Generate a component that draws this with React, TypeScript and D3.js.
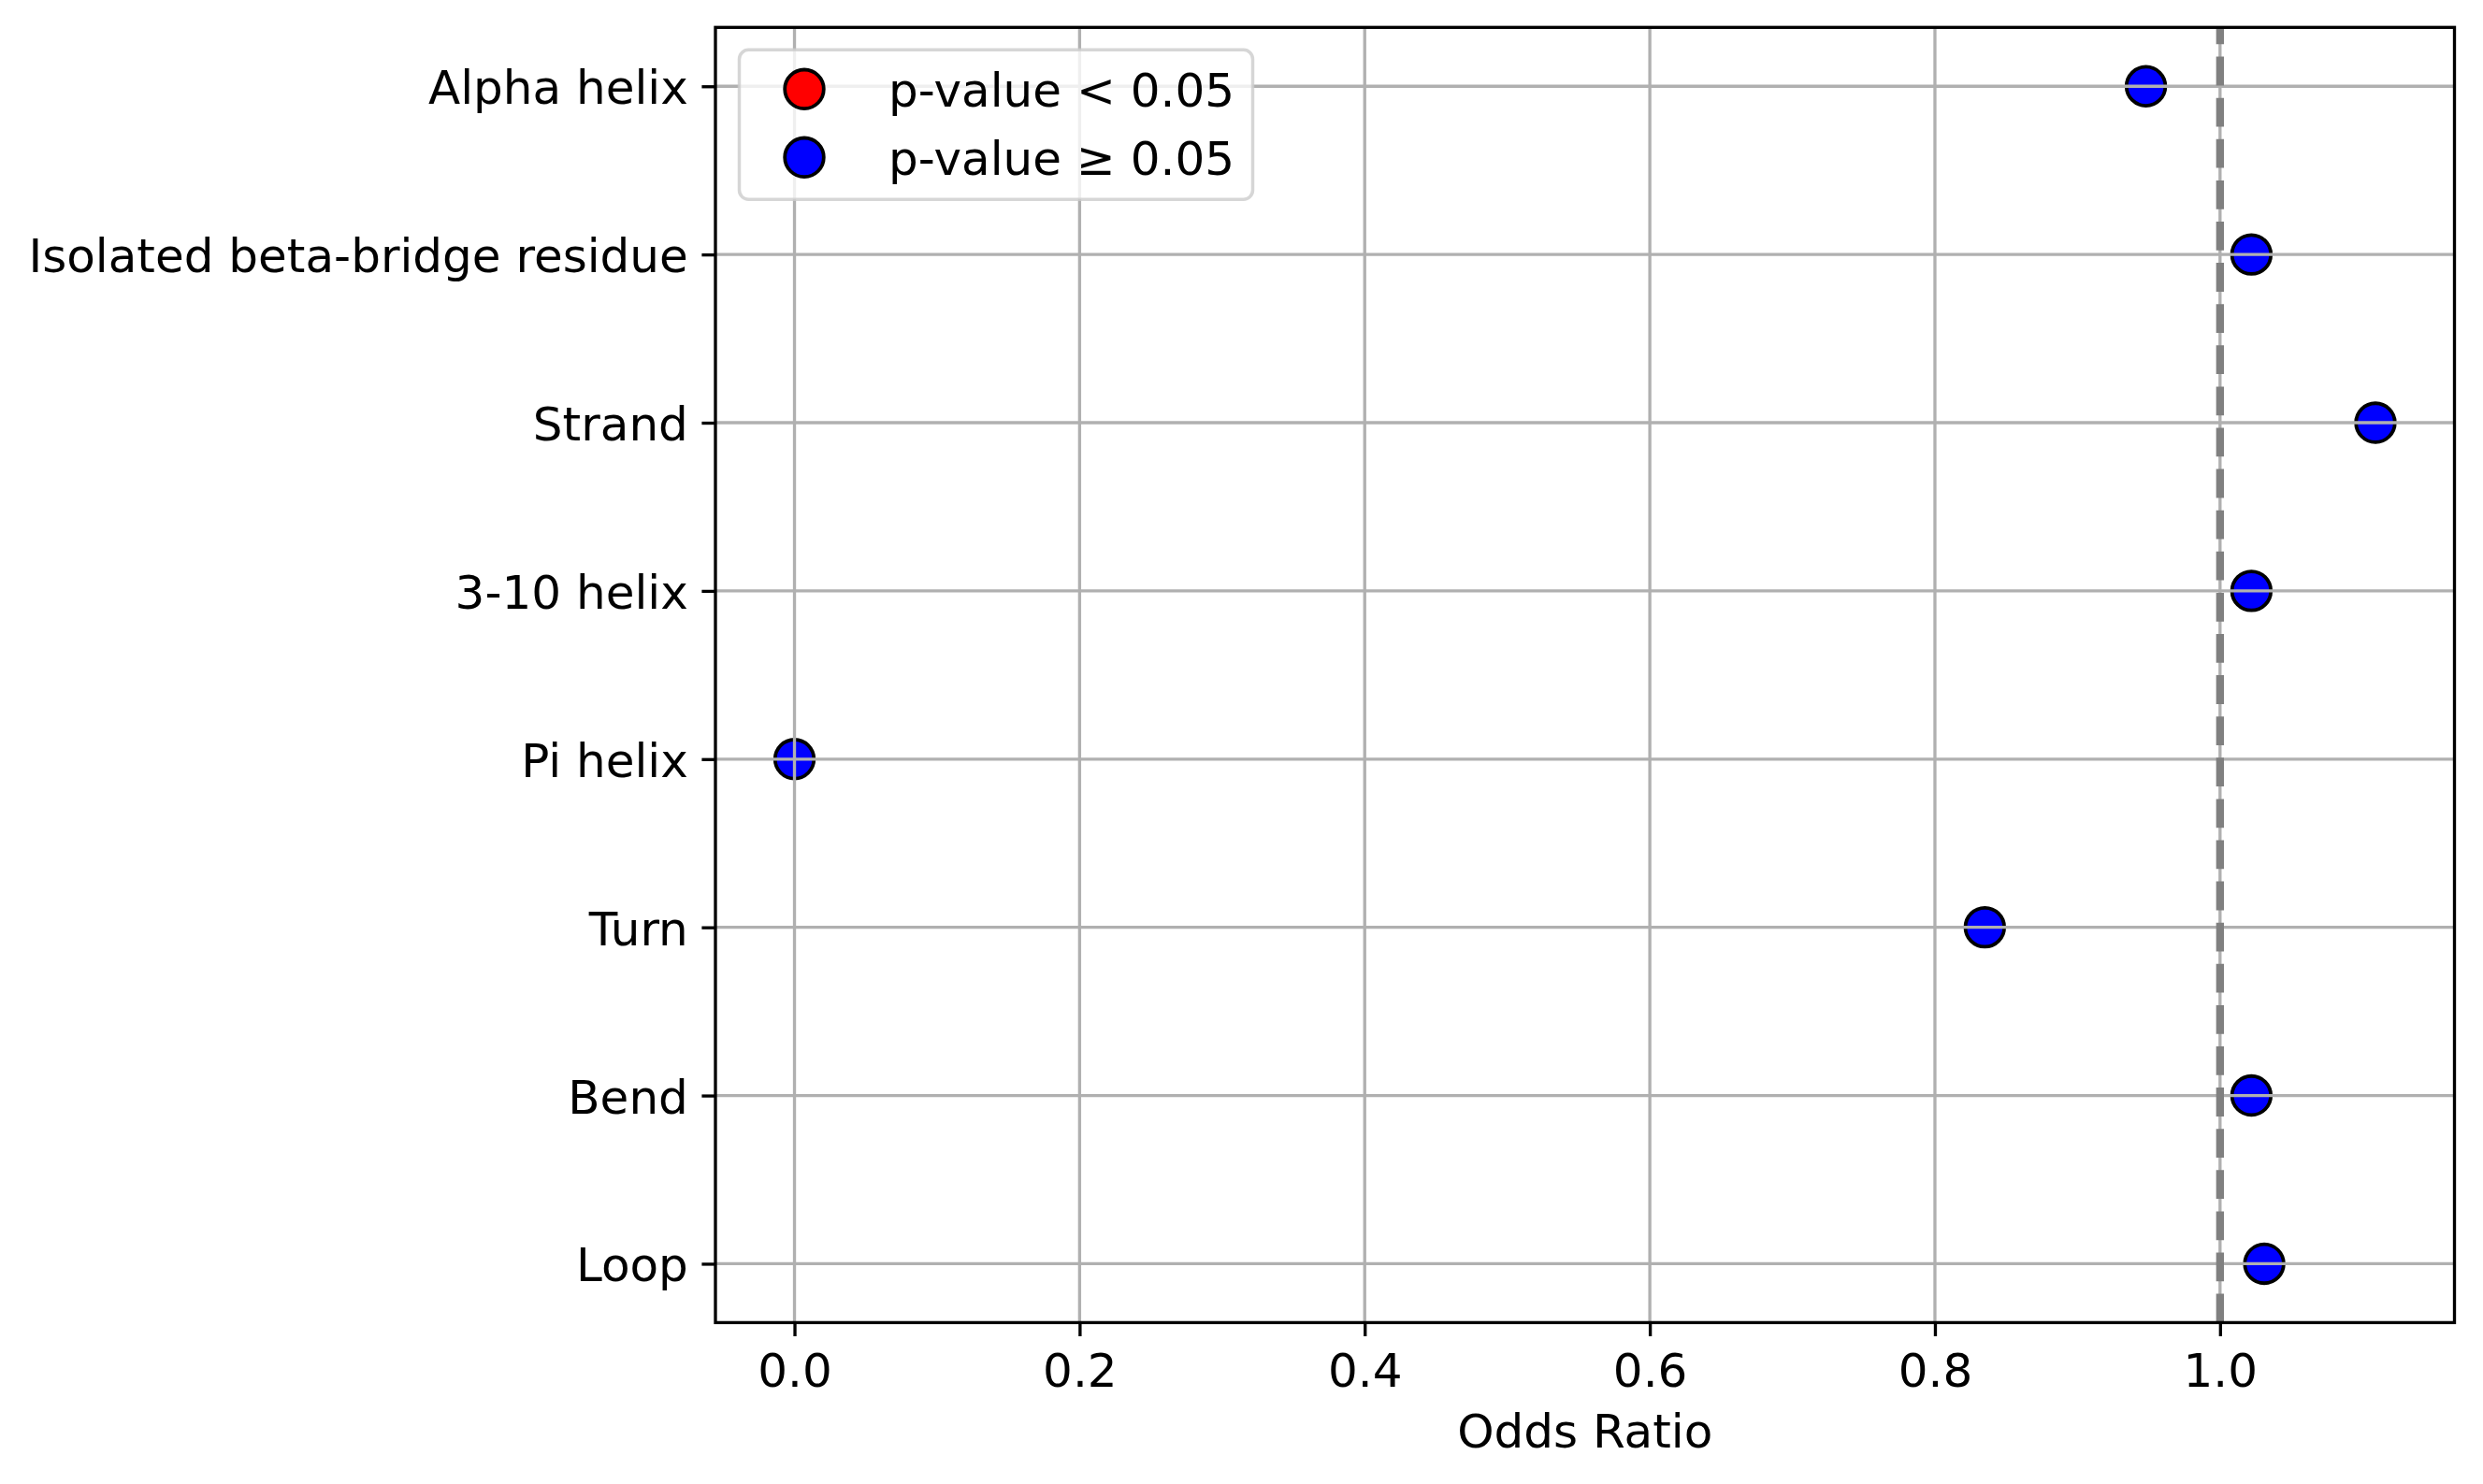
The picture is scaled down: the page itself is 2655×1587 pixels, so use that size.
import React, { useEffect, useRef } from 'react';
import * as d3 from 'd3';

const categories = [
  'Alpha helix',
  'Isolated beta-bridge residue',
  'Strand',
  '3-10 helix',
  'Pi helix',
  'Turn',
  'Bend',
  'Loop',
];
const oddsRatios = [0.948, 1.022, 1.109, 1.022, 0.0, 0.835, 1.022, 1.031];
const significant = [false, false, false, false, false, false, false, false];
const xTicks = [0.0, 0.2, 0.4, 0.6, 0.8, 1.0];
const legendLabels = ['p-value < 0.05', 'p-value \u2265 0.05'];
const legendColors = ['#ff0000', '#0000ff'];
const referenceLine = 1.0;

const W = 2655;
const H = 1587;
const FONT = '"DejaVu Sans", sans-serif';
const FS = 50;

const App: React.FC = () => {
  const svgRef = useRef<SVGSVGElement>(null);

  useEffect(() => {
    const svg = d3.select(svgRef.current);
    svg.selectAll('*').remove();

    const left = 765;
    const right = 2624.5;
    const top = 29.3;
    const bottom = 1414.4;

    const [lo, hi] = d3.extent(oddsRatios) as [number, number];
    const pad = (hi - lo) * 0.05;
    const x = d3.scaleLinear().domain([lo - pad, hi + pad]).range([left, right]);
    const y = d3.scalePoint<string>().domain(categories).range([top, bottom]).padding(0.35);

    svg.append('rect').attr('width', W).attr('height', H).attr('fill', 'white');

    const data = categories.map((c, i) => ({ c, v: oddsRatios[i], sig: significant[i] }));

    // points (drawn below the grid, like matplotlib)
    svg.append('g')
      .selectAll('circle')
      .data(data)
      .join('circle')
      .attr('cx', d => x(d.v))
      .attr('cy', d => y(d.c) ?? 0)
      .attr('r', 20.8)
      .attr('fill', d => (d.sig ? legendColors[0] : legendColors[1]))
      .attr('stroke', 'black')
      .attr('stroke-width', 3.8);

    // grid
    const grid = svg.append('g').attr('stroke', '#b0b0b0').attr('stroke-width', 3.33);
    grid.selectAll('line.v')
      .data(xTicks)
      .join('line')
      .attr('class', 'v')
      .attr('x1', d => x(d)).attr('x2', d => x(d))
      .attr('y1', top).attr('y2', bottom);
    grid.selectAll('line.h')
      .data(categories)
      .join('line')
      .attr('class', 'h')
      .attr('x1', left).attr('x2', right)
      .attr('y1', d => y(d) ?? 0).attr('y2', d => y(d) ?? 0);

    // reference line at OR = 1
    svg.append('line')
      .attr('x1', x(referenceLine)).attr('x2', x(referenceLine))
      .attr('y1', bottom).attr('y2', top)
      .attr('stroke', '#808080')
      .attr('stroke-width', 8.33)
      .attr('stroke-dasharray', '30.8,13.3');

    // axes
    const xAxis = svg.append('g')
      .attr('transform', `translate(0,${bottom})`)
      .call(d3.axisBottom(x).tickValues(xTicks).tickFormat(d3.format('.1f')).tickSize(14.6).tickPadding(14.6));
    const yAxis = svg.append('g')
      .attr('transform', `translate(${left},0)`)
      .call(d3.axisLeft(y).tickSize(14.6).tickPadding(14.6));

    [xAxis, yAxis].forEach(g => {
      g.select('.domain').remove();
      g.selectAll('.tick line').attr('stroke', 'black').attr('stroke-width', 3.33);
      g.selectAll('.tick text')
        .attr('fill', 'black')
        .style('font-family', FONT)
        .style('font-size', `${FS}px`);
    });
    xAxis.selectAll('.tick text').attr('dy', '0.79em');
    yAxis.selectAll('.tick text').attr('dy', '0.37em');

    // spines
    svg.append('rect')
      .attr('x', left).attr('y', top)
      .attr('width', right - left).attr('height', bottom - top)
      .attr('fill', 'none')
      .attr('stroke', 'black')
      .attr('stroke-width', 3.33);

    // x label
    svg.append('text')
      .attr('x', (left + right) / 2)
      .attr('y', 1548)
      .attr('text-anchor', 'middle')
      .style('font-family', FONT)
      .style('font-size', `${FS}px`)
      .text('Odds Ratio');

    // legend
    const lg = svg.append('g');
    lg.append('rect')
      .attr('x', left + 25.5).attr('y', top + 24)
      .attr('width', 549).attr('height', 160)
      .attr('rx', 10).attr('ry', 10)
      .attr('fill', 'white').attr('fill-opacity', 0.8)
      .attr('stroke', '#cccccc').attr('stroke-opacity', 0.8)
      .attr('stroke-width', 3.5);
    const rows = lg.selectAll('g.row')
      .data(legendLabels)
      .join('g')
      .attr('class', 'row')
      .attr('transform', (_, i) => `translate(${left + 95},${top + 66 + i * 73})`);
    rows.append('circle')
      .attr('r', 20.8)
      .attr('fill', (_, i) => legendColors[i])
      .attr('stroke', 'black')
      .attr('stroke-width', 3.8);
    rows.append('text')
      .attr('x', 90)
      .attr('y', 18.3)
      .style('font-family', FONT)
      .style('font-size', `${FS}px`)
      .text(d => d);
  }, []);

  return (
    <svg
      ref={svgRef}
      width={W}
      height={H}
      style={{ position: 'absolute', left: 0, top: 0, display: 'block' }}
    />
  );
};

export default App;
